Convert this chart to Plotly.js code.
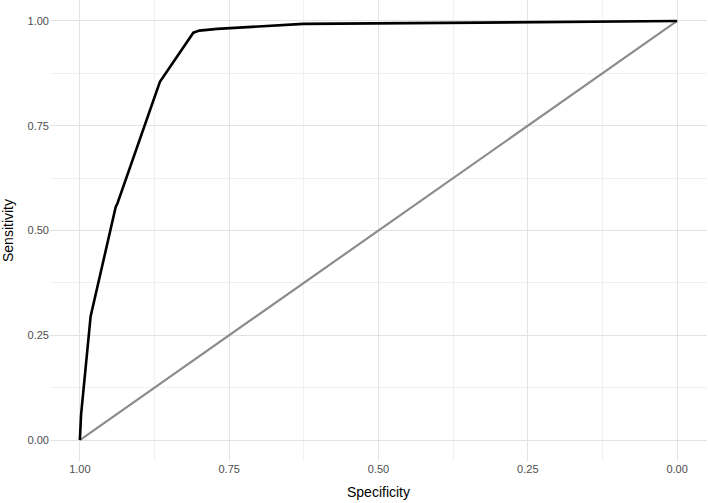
<!DOCTYPE html>
<html>
<head>
<meta charset="utf-8">
<script src="https://cdn.plot.ly/plotly-3.0.1.min.js"></script>
<style>html,body{margin:0;padding:0;background:#fff;}#chart{width:708px;height:503px;}</style>
</head>
<body>
<div id="chart"></div>
<script>
const specificity = [1, 0.998, 0.982, 0.94, 0.937, 0.866, 0.81, 0.80, 0.77, 0.626, 0.33, 0];
const sensitivity = [0, 0.06, 0.295, 0.556, 0.565, 0.855, 0.972, 0.977, 0.981, 0.993, 0.996, 1];
const diagX = [1, 0];
const diagY = [0, 1];
const tickVals = [1, 0.75, 0.5, 0.25, 0];
const tickText = ["1.00", "0.75", "0.50", "0.25", "0.00"];
const minorVals = [0.875, 0.625, 0.375, 0.125];

const traces = [
  {x: diagX, y: diagY, mode: 'lines', line: {color: '#8c8c8c', width: 2.2}, hoverinfo: 'skip'},
  {x: specificity, y: sensitivity, mode: 'lines', line: {color: '#000000', width: 2.6}}
];

const axisCommon = {
  showline: false, zeroline: false, ticks: '',
  gridcolor: '#e3e3e3', gridwidth: 1,
  tickfont: {family: 'Liberation Sans, Arial, sans-serif', size: 11, color: '#4d4d4d'}
};

const layout = {
  width: 708, height: 503,
  margin: {l: 50, r: 1, t: 0, b: 42},
  paper_bgcolor: '#fff', plot_bgcolor: '#fff',
  showlegend: false,
  font: {family: 'Liberation Sans, Arial, sans-serif'},
  xaxis: Object.assign({}, axisCommon, {
    range: [1.05, -0.05], tickmode: 'array', tickvals: tickVals, ticktext: tickText,
    minor: {tickvals: minorVals, showgrid: true, gridcolor: '#ececec', gridwidth: 0.8, ticks: ''},
    title: {text: 'Specificity', font: {size: 14, color: '#000'}, standoff: 13}
  }),
  yaxis: Object.assign({}, axisCommon, {
    range: [-0.05, 1.05], tickmode: 'array', tickvals: tickVals, ticktext: tickText,
    minor: {tickvals: minorVals, showgrid: true, gridcolor: '#ececec', gridwidth: 0.8, ticks: ''},
    title: {text: 'Sensitivity', font: {size: 14, color: '#000'}, standoff: 10}
  })
};

Plotly.newPlot('chart', traces, layout, {displayModeBar: false, staticPlot: true});
</script>
</body>
</html>
